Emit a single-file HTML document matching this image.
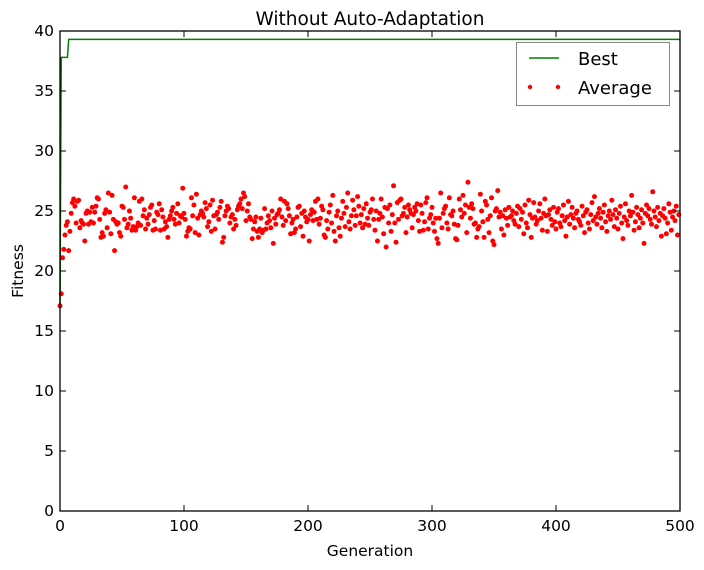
<!DOCTYPE html>
<html><head><meta charset="utf-8"><style>
html,body{margin:0;padding:0;background:#fff;width:704px;height:570px;overflow:hidden}
svg text{font-family:"DejaVu Sans","Liberation Sans",sans-serif}
</style></head><body>
<svg id="chart" width="704" height="570" xmlns="http://www.w3.org/2000/svg">
<rect x="0" y="0" width="704" height="570" fill="#fff"/>
<text x="370" y="25" text-anchor="middle" font-size="18.5">Without Auto-Adaptation</text>
<g id="marks"></g>
<g id="axes"></g>
<text x="370" y="556" text-anchor="middle" font-size="15.5">Generation</text>
<text x="23" y="271" text-anchor="middle" font-size="15.5" transform="rotate(-90 23 271)">Fitness</text>
<g>
<rect x="516.5" y="42.5" width="153" height="63" fill="#fff" stroke="#888"/>
<line x1="529" y1="58" x2="559" y2="58" stroke="#008000" stroke-width="1.5"/>
<text x="578" y="65" font-size="18">Best</text>
<circle cx="530" cy="87" r="2.2" fill="red"/>
<circle cx="558" cy="87" r="2.2" fill="red"/>
<text x="578" y="94" font-size="18">Average</text>
</g>
</svg>
<script>
const xTicks=[0,100,200,300,400,500];
const yTicks=[0,5,10,15,20,25,30,35,40];
const bestChanges=[17.1,37.8,37.8,37.8,37.8,37.8,37.8,39.3];
const bestFinal=39.3;
const avgA=[17.1,18.1,21.1,21.8,23.0,23.8,24.1,21.7,23.3,24.8,25.7,26.0,25.4,24.0,25.8,25.9,23.6,24.2,24.0,23.9,22.5,24.8,25.0,23.9,24.9,
24.1,25.3,24.0,24.9,25.4,26.1,26.0,24.3,22.8,23.2,22.9,24.8,25.1,23.6,26.5,24.9,23.1,26.3,24.3,21.7,24.1,23.9,24.0,23.2,22.9,
25.4,25.3,24.3,27.0,23.6,23.9,25.0,24.4,23.4,23.7,26.1,23.4,23.7,24.0,25.8,23.8,26.0,24.6,25.1,23.5,24.4,23.9,24.7,25.3,25.5,
23.4,24.2,23.5,24.9,24.7,25.6,23.4,25.1,24.5,23.5,24.1,23.7,22.8,24.3,24.6,25.0,25.3,24.3,23.9,24.8,25.6,24.0,24.6,24.5,26.9,
24.8,24.3,22.9,23.3,23.6,23.5,26.1,24.6,25.5,23.2,26.4,24.4,23.0,24.7,25.0,24.8,24.5,25.7,25.2,23.7,24.1,25.5,23.3,25.9,24.6,
23.5,24.7,24.9,24.3,25.3,25.8,22.4,22.8,24.6,25.0,25.4,25.2,24.0,24.5,24.7,23.5,24.3,23.8,25.1,25.4,25.6,26.0,25.2,26.5,26.2,
24.2,25.0,25.6,24.5,24.3,22.7,23.5,24.1,24.5,23.3,22.8,23.5,24.4,23.2,23.4,25.2,23.5,24.0,24.6,24.2,23.6,25.0,22.3,24.4,23.9,
24.7,24.8,25.1,26.0,24.5,23.8,25.8,24.2,25.6,25.2,24.6,23.1,24.0,24.3,23.2,23.5,24.5,25.3,25.4,23.7,24.8,22.9,25.0,24.5,24.1,
24.3,22.5,24.7,25.1,24.2,24.9,25.8,24.3,26.0,23.9,24.4,25.4,25.1,23.0,22.8,24.2,23.5,24.9,25.5,24.0,26.3,23.3,22.5,24.6,25.0,
23.6,22.9,24.4,25.8,24.8,23.7,25.3,26.5,24.1,23.5,24.6,25.9,25.1,23.8,24.6,26.2,25.4,24.0,24.7,23.6,25.2,23.9,25.6,24.4,23.8];
const avgB=[24.9,25.1,26.0,24.3,23.4,25.0,22.5,24.3,24.8,26.0,24.5,23.1,25.3,22.0,25.2,24.0,25.5,23.3,24.7,27.1,24.0,22.4,25.7,24.3,25.9,
26.0,24.6,24.8,25.3,23.2,24.5,25.5,25.1,24.8,23.6,24.7,25.3,25.0,25.6,24.2,23.3,25.5,24.8,23.4,24.1,25.7,26.1,23.5,24.4,24.7,
25.3,24.0,23.3,24.4,22.7,22.3,24.4,26.5,23.6,24.8,25.2,25.4,24.0,23.5,26.1,24.7,24.6,25.0,23.9,22.7,22.6,23.8,26.0,25.1,24.5,
26.3,24.8,25.5,23.2,27.4,25.3,24.4,25.6,25.2,23.9,24.0,22.8,23.5,23.7,26.4,25.0,24.1,22.8,25.8,25.5,24.3,23.2,24.6,26.1,22.5,
22.2,25.0,25.2,26.7,24.5,24.9,23.5,24.6,23.0,25.1,24.4,23.8,25.3,24.5,24.6,25.0,24.2,23.9,24.8,25.4,23.7,25.2,24.3,24.9,23.1,
25.5,24.0,23.6,25.9,24.7,22.8,24.4,25.7,24.5,23.9,24.2,25.0,25.6,24.4,23.4,24.8,26.0,24.6,23.3,24.7,25.1,24.3,23.8,25.3,24.1,
23.5,24.9,25.2,24.0,23.7,24.6,25.5,24.2,22.9,24.5,25.8,23.9,24.7,25.3,24.4,23.6,24.8,25.0,24.3,24.1,23.8,25.4,24.6,23.2,24.9,
25.1,24.0,23.5,24.7,25.7,24.2,26.2,24.5,23.9,24.8,25.2,24.4,23.6,24.9,25.5,24.1,23.3,24.6,25.0,24.3,25.9,24.7,23.7,25.1,24.4,
23.5,24.8,25.4,24.0,22.7,24.5,25.6,24.2,23.8,25.0,24.6,26.3,24.9,23.4,24.1,25.3,24.7,23.6,24.4,25.1,24.0,22.3,24.8,25.5,24.6,
25.2,24.3,23.9,26.6,25.0,24.5,23.7,25.3,24.2,24.8,22.9,24.6,25.2,24.4,23.1,24.0,25.6,24.9,23.4,24.5,25.0,24.2,25.4,23.0,24.7];
const avgData=avgA.concat(avgB).slice(0,501);
const X0=60,X1=680,Y0=511,Y1=31,XMAX=500,YMAX=40;
function xs(v){return X0+(v/XMAX)*(X1-X0);}
function ys(v){return Y0-(v/YMAX)*(Y0-Y1);}
const NS="http://www.w3.org/2000/svg";
const marks=document.getElementById('marks');
const axes=document.getElementById('axes');
let pts=[];
bestChanges.forEach((v,i)=>pts.push(xs(i)+','+ys(v)));
pts.push(xs(XMAX)+','+ys(bestFinal));
const pl=document.createElementNS(NS,'polyline');
pl.setAttribute('points',pts.join(' '));
pl.setAttribute('fill','none');pl.setAttribute('stroke','#008000');pl.setAttribute('stroke-width','1.5');


marks.appendChild(pl);
avgData.forEach((v,i)=>{
 const c=document.createElementNS(NS,'circle');
 c.setAttribute('cx',xs(i));c.setAttribute('cy',ys(v));c.setAttribute('r','2.5');c.setAttribute('fill','#ff0000');
 
 
 marks.appendChild(c);
});
const fr=document.createElementNS(NS,'rect');
fr.setAttribute('x',X0);fr.setAttribute('y',Y1);fr.setAttribute('width',X1-X0);fr.setAttribute('height',Y0-Y1);
fr.setAttribute('fill','none');fr.setAttribute('stroke','#000');fr.setAttribute('stroke-width','1.3');


axes.appendChild(fr);
function ln(x1,y1,x2,y2){const l=document.createElementNS(NS,'line');l.setAttribute('x1',x1);l.setAttribute('y1',y1);l.setAttribute('x2',x2);l.setAttribute('y2',y2);l.setAttribute('stroke','#000');l.setAttribute('stroke-width','1');return l;}
xTicks.forEach(t=>{
 const x=xs(t);
 const a=ln(x,Y0,x,Y0-6);
 
 
 axes.appendChild(a);
 const b=ln(x,Y1,x,Y1+6);
 
 
 axes.appendChild(b);
 const tx=document.createElementNS(NS,'text');
 tx.setAttribute('x',x);tx.setAttribute('y',Y0+20);tx.setAttribute('text-anchor','middle');tx.setAttribute('font-size','15.5');
 tx.textContent=t;
 
 
 axes.appendChild(tx);
});
yTicks.forEach(t=>{
 const y=ys(t);
 const a=ln(X0,y,X0+6,y);
 
 
 axes.appendChild(a);
 const b=ln(X1,y,X1-6,y);
 
 
 axes.appendChild(b);
 const tx=document.createElementNS(NS,'text');
 tx.setAttribute('x',X0-6);tx.setAttribute('y',y+5);tx.setAttribute('text-anchor','end');tx.setAttribute('font-size','15.5');
 tx.textContent=t;
 
 
 axes.appendChild(tx);
});
</script>
</body></html>
